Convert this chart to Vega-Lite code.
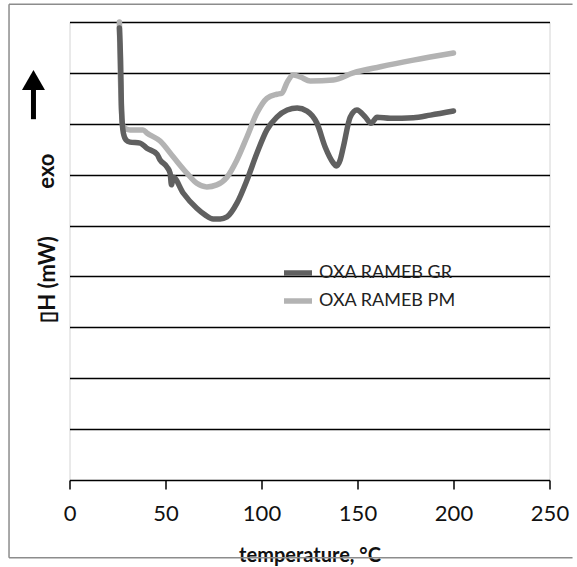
{
  "$schema": "https://vega.github.io/schema/vega-lite/v6.json",
  "autosize": {"type": "none"},
  "width": 480,
  "height": 458,
  "padding": {"left": 69.5, "top": 22, "right": 27.5, "bottom": 87},
  "background": "white",
  "config": {"font": "Lato", "view": {"stroke": "#d4d4d4", "strokeWidth": 1}},
  "datasets": {
    "dsc": [
      {"series": "OXA RAMEB PM", "T": 26.0, "H": 9.0},
      {"series": "OXA RAMEB PM", "T": 26.3, "H": 8.25},
      {"series": "OXA RAMEB PM", "T": 26.9, "H": 7.47},
      {"series": "OXA RAMEB PM", "T": 27.4, "H": 7.03},
      {"series": "OXA RAMEB PM", "T": 28.4, "H": 6.92},
      {"series": "OXA RAMEB PM", "T": 31.5, "H": 6.88},
      {"series": "OXA RAMEB PM", "T": 38.3, "H": 6.88},
      {"series": "OXA RAMEB PM", "T": 40.3, "H": 6.82},
      {"series": "OXA RAMEB PM", "T": 47.2, "H": 6.66},
      {"series": "OXA RAMEB PM", "T": 54.0, "H": 6.35},
      {"series": "OXA RAMEB PM", "T": 61.1, "H": 6.03},
      {"series": "OXA RAMEB PM", "T": 66.3, "H": 5.83},
      {"series": "OXA RAMEB PM", "T": 71.5, "H": 5.76},
      {"series": "OXA RAMEB PM", "T": 76.7, "H": 5.8},
      {"series": "OXA RAMEB PM", "T": 82.0, "H": 5.95},
      {"series": "OXA RAMEB PM", "T": 87.2, "H": 6.29},
      {"series": "OXA RAMEB PM", "T": 92.4, "H": 6.74},
      {"series": "OXA RAMEB PM", "T": 97.6, "H": 7.21},
      {"series": "OXA RAMEB PM", "T": 102.8, "H": 7.5},
      {"series": "OXA RAMEB PM", "T": 108.0, "H": 7.58},
      {"series": "OXA RAMEB PM", "T": 110.6, "H": 7.6},
      {"series": "OXA RAMEB PM", "T": 113.4, "H": 7.82},
      {"series": "OXA RAMEB PM", "T": 116.5, "H": 7.96},
      {"series": "OXA RAMEB PM", "T": 120.2, "H": 7.92},
      {"series": "OXA RAMEB PM", "T": 125.4, "H": 7.84},
      {"series": "OXA RAMEB PM", "T": 137.4, "H": 7.86},
      {"series": "OXA RAMEB PM", "T": 147.8, "H": 8.0},
      {"series": "OXA RAMEB PM", "T": 161.9, "H": 8.12},
      {"series": "OXA RAMEB PM", "T": 179.1, "H": 8.25},
      {"series": "OXA RAMEB PM", "T": 200.0, "H": 8.39},
      {"series": "OXA RAMEB GR", "T": 26.0, "H": 8.88},
      {"series": "OXA RAMEB GR", "T": 26.6, "H": 8.25},
      {"series": "OXA RAMEB GR", "T": 27.1, "H": 7.27},
      {"series": "OXA RAMEB GR", "T": 28.05, "H": 6.82},
      {"series": "OXA RAMEB GR", "T": 29.5, "H": 6.68},
      {"series": "OXA RAMEB GR", "T": 31.5, "H": 6.64},
      {"series": "OXA RAMEB GR", "T": 36.8, "H": 6.62},
      {"series": "OXA RAMEB GR", "T": 40.3, "H": 6.52},
      {"series": "OXA RAMEB GR", "T": 45.6, "H": 6.4},
      {"series": "OXA RAMEB GR", "T": 47.2, "H": 6.29},
      {"series": "OXA RAMEB GR", "T": 50.8, "H": 6.15},
      {"series": "OXA RAMEB GR", "T": 52.4, "H": 6.03},
      {"series": "OXA RAMEB GR", "T": 53.1, "H": 5.8},
      {"series": "OXA RAMEB GR", "T": 54.0, "H": 5.95},
      {"series": "OXA RAMEB GR", "T": 59.2, "H": 5.64},
      {"series": "OXA RAMEB GR", "T": 66.3, "H": 5.34},
      {"series": "OXA RAMEB GR", "T": 70.6, "H": 5.21},
      {"series": "OXA RAMEB GR", "T": 74.8, "H": 5.13},
      {"series": "OXA RAMEB GR", "T": 78.5, "H": 5.13},
      {"series": "OXA RAMEB GR", "T": 82.0, "H": 5.17},
      {"series": "OXA RAMEB GR", "T": 87.2, "H": 5.44},
      {"series": "OXA RAMEB GR", "T": 92.4, "H": 5.89},
      {"series": "OXA RAMEB GR", "T": 97.6, "H": 6.42},
      {"series": "OXA RAMEB GR", "T": 102.8, "H": 6.88},
      {"series": "OXA RAMEB GR", "T": 108.0, "H": 7.13},
      {"series": "OXA RAMEB GR", "T": 113.4, "H": 7.27},
      {"series": "OXA RAMEB GR", "T": 118.6, "H": 7.31},
      {"series": "OXA RAMEB GR", "T": 123.7, "H": 7.25},
      {"series": "OXA RAMEB GR", "T": 128.9, "H": 7.01},
      {"series": "OXA RAMEB GR", "T": 133.2, "H": 6.54},
      {"series": "OXA RAMEB GR", "T": 137.4, "H": 6.23},
      {"series": "OXA RAMEB GR", "T": 138.9, "H": 6.17},
      {"series": "OXA RAMEB GR", "T": 141.0, "H": 6.29},
      {"series": "OXA RAMEB GR", "T": 142.6, "H": 6.54},
      {"series": "OXA RAMEB GR", "T": 146.2, "H": 7.13},
      {"series": "OXA RAMEB GR", "T": 149.7, "H": 7.27},
      {"series": "OXA RAMEB GR", "T": 154.1, "H": 7.13},
      {"series": "OXA RAMEB GR", "T": 157.0, "H": 7.01},
      {"series": "OXA RAMEB GR", "T": 160.2, "H": 7.13},
      {"series": "OXA RAMEB GR", "T": 167.1, "H": 7.11},
      {"series": "OXA RAMEB GR", "T": 179.1, "H": 7.12},
      {"series": "OXA RAMEB GR", "T": 188.0, "H": 7.17},
      {"series": "OXA RAMEB GR", "T": 200.0, "H": 7.25}
    ]
  },
  "layer": [
    {
      "data": {"values": [{}]},
      "mark": {"type": "rule", "stroke": "#8c8c8c", "strokeWidth": 1.5},
      "encoding": {"x": {"datum": -31.5, "type": "quantitative"}, "x2": {"datum": 262}, "y": {"datum": 9.35, "type": "quantitative"}}
    },
    {
      "data": {"values": [{}]},
      "mark": {"type": "rule", "stroke": "#8c8c8c", "strokeWidth": 1.5},
      "encoding": {"x": {"datum": -31.5, "type": "quantitative"}, "y": {"datum": 9.35, "type": "quantitative"}, "y2": {"datum": -1.53}}
    },
    {
      "data": {"values": [{}]},
      "mark": {"type": "rule", "stroke": "#8c8c8c", "strokeWidth": 1.5},
      "encoding": {"x": {"datum": -31.5, "type": "quantitative"}, "x2": {"datum": 262}, "y": {"datum": -1.53, "type": "quantitative"}}
    },
    {
      "data": {"name": "dsc"},
      "transform": [{"filter": "datum.series === 'OXA RAMEB PM'"}],
      "mark": {"type": "line", "strokeWidth": 5.5, "strokeCap": "round", "strokeJoin": "round", "interpolate": "monotone"},
      "encoding": {
        "x": {"field": "T", "type": "quantitative", "scale": {"domain": [0, 250], "nice": false},
          "axis": {"values": [0, 50, 100, 150, 200, 250], "grid": false, "domainColor": "#000", "domainWidth": 1.5, "tickColor": "#000", "tickWidth": 1.5, "tickSize": 9, "labelFontSize": 22, "labelColor": "#111", "labelPadding": 14, "labelFlush": false, "title": "temperature, °C", "titleFontSize": 20, "titleFontWeight": "bold", "titleColor": "#111", "titleBaseline": "alphabetic", "titleY": 81}},
        "y": {"field": "H", "type": "quantitative", "scale": {"domain": [0, 9], "nice": false},
          "axis": {"values": [1, 2, 3, 4, 5, 6, 7, 8, 9], "grid": true, "gridColor": "#000", "gridWidth": 1.7, "labels": false, "ticks": false, "domain": false, "title": "▯H (mW)", "titleFontSize": 22, "titleFontWeight": "bold", "titleColor": "#111", "titleX": -22, "titleY": 257, "titleAngle": -90, "titleBaseline": "middle", "titleAlign": "center"}},
        "color": {"field": "series", "type": "nominal",
          "scale": {"domain": ["OXA RAMEB GR", "OXA RAMEB PM"], "range": ["#606060", "#b3b3b3"]},
          "legend": {"orient": "none", "legendX": 211.5, "legendY": 234, "title": null, "symbolType": "stroke", "symbolSize": 784, "symbolStrokeWidth": 5.5, "labelFontSize": 18, "labelFont": "Lato", "labelColor": "#222", "labelOffset": 4, "rowPadding": -4}}
      }
    },
    {
      "data": {"name": "dsc"},
      "transform": [{"filter": "datum.series === 'OXA RAMEB GR'"}],
      "mark": {"type": "line", "strokeWidth": 5.5, "strokeCap": "round", "strokeJoin": "round", "interpolate": "monotone"},
      "encoding": {
        "x": {"field": "T", "type": "quantitative"},
        "y": {"field": "H", "type": "quantitative"},
        "color": {"field": "series", "type": "nominal"}
      }
    },
    {
      "data": {"values": [{}]},
      "mark": {"type": "text", "text": "exo", "angle": 270, "font": "Lato", "fontSize": 22, "fontWeight": "bold", "align": "center", "baseline": "middle", "color": "#111"},
      "encoding": {"x": {"datum": -11.7, "type": "quantitative"}, "y": {"datum": 6.07, "type": "quantitative"}}
    },
    {
      "data": {"values": [{}]},
      "mark": {"type": "rule", "stroke": "#000", "strokeWidth": 5},
      "encoding": {"x": {"datum": -18.77, "type": "quantitative"}, "y": {"datum": 7.09, "type": "quantitative"}, "y2": {"datum": 7.8}}
    },
    {
      "data": {"values": [{}]},
      "mark": {"type": "point", "shape": "triangle-up", "filled": true, "fill": "#000", "stroke": null, "opacity": 1, "size": 529},
      "encoding": {"x": {"datum": -18.77, "type": "quantitative"}, "y": {"datum": 7.86, "type": "quantitative"}}
    }
  ]
}
